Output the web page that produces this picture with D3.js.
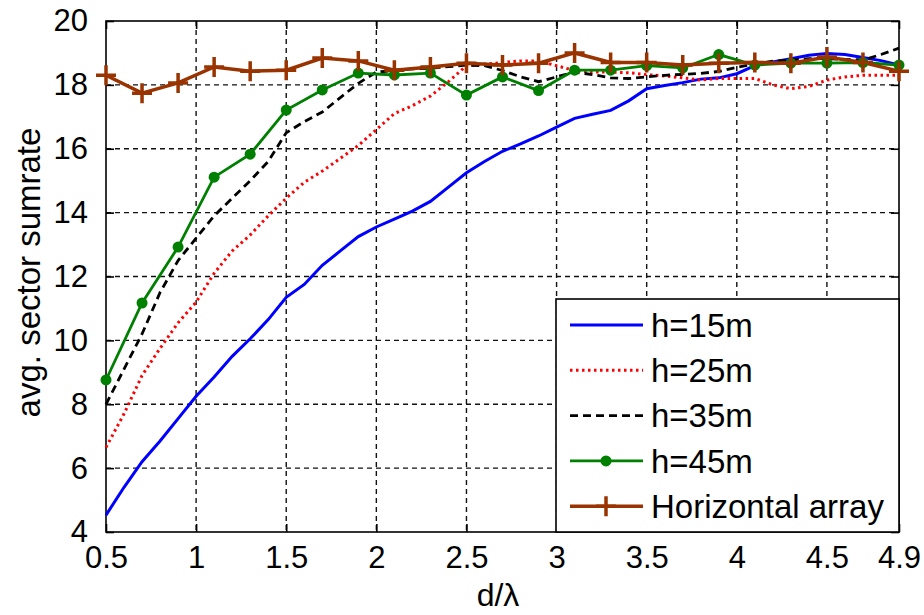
<!DOCTYPE html>
<html>
<head>
  <meta charset="utf-8">
  <title>avg. sector sumrate</title>
  <script src="https://d3js.org/d3.v7.min.js"></script>
  <style>
    body { margin: 0; background: white; }
    text { font-family: "Liberation Sans", Arial, sans-serif; fill: #000; }
  </style>
</head>
<body>
<div id="output"></div>

<script type="text/javascript">

  // d/lambda sampled every 0.1 for the three plain curves
  var dFine = [0.5, 0.6, 0.7, 0.8, 0.9, 1.0, 1.1, 1.2, 1.3, 1.4, 1.5, 1.6, 1.7, 1.8, 1.9,
               2.0, 2.1, 2.2, 2.3, 2.4, 2.5, 2.6, 2.7, 2.8, 2.9, 3.0, 3.1, 3.2, 3.3, 3.4,
               3.5, 3.6, 3.7, 3.8, 3.9, 4.0, 4.1, 4.2, 4.3, 4.4, 4.5, 4.6, 4.7, 4.8, 4.9];

  // d/lambda where the marker curves have points
  var dMarks = [0.5, 0.7, 0.9, 1.1, 1.3, 1.5, 1.7, 1.9, 2.1, 2.3, 2.5, 2.7, 2.9,
                3.1, 3.3, 3.5, 3.7, 3.9, 4.1, 4.3, 4.5, 4.7, 4.9];

  var h15 = [4.53, 5.4, 6.2, 6.85, 7.55, 8.25, 8.85, 9.5, 10.05, 10.65, 11.35, 11.75, 12.35, 12.8, 13.25,
             13.55, 13.8, 14.05, 14.35, 14.8, 15.25, 15.6, 15.92, 16.15, 16.4, 16.68, 16.95, 17.08, 17.2, 17.5,
             17.88, 17.98, 18.07, 18.18, 18.22, 18.35, 18.6, 18.72, 18.82, 18.93, 18.98, 18.95, 18.86, 18.76, 18.62];

  var h25 = [6.65, 7.7, 8.9, 9.75, 10.55, 11.2, 12.1, 12.8, 13.3, 13.9, 14.45, 14.95, 15.3, 15.7, 16.1,
             16.6, 17.1, 17.35, 17.65, 18.1, 18.6, 18.65, 18.7, 18.75, 18.75, 18.6, 18.45, 18.4, 18.4, 18.38,
             18.32, 18.28, 18.22, 18.15, 18.2, 18.2, 18.2, 18.0, 17.88, 17.95, 18.15, 18.25, 18.3, 18.3, 18.3];

  var h35 = [8.0, 9.1, 10.2, 11.5, 12.5, 13.2, 13.9, 14.45, 15.0, 15.6, 16.5, 16.85, 17.15, 17.6, 18.05,
             18.4, 18.45, 18.5, 18.52, 18.57, 18.62, 18.6, 18.45, 18.25, 18.1, 18.25, 18.4, 18.32, 18.22, 18.2,
             18.25, 18.3, 18.33, 18.36, 18.42, 18.55, 18.66, 18.74, 18.78, 18.82, 18.82, 18.8, 18.78, 18.95, 19.15];

  var h45 = [8.76, 11.17, 12.92, 15.11, 15.83, 17.21, 17.84, 18.37, 18.31, 18.37, 17.68, 18.25,
             17.82, 18.46, 18.46, 18.6, 18.53, 18.95, 18.62, 18.68, 18.68, 18.7, 18.62];

  var horiz = [18.3, 17.74, 18.06, 18.56, 18.43, 18.46, 18.84, 18.75, 18.46, 18.56, 18.68, 18.62,
               18.68, 19.0, 18.7, 18.7, 18.62, 18.68, 18.7, 18.68, 18.87, 18.7, 18.43];

  var xTicks = [0.5, 1, 1.5, 2, 2.5, 3, 3.5, 4, 4.5, 4.9];
  var yTicks = [4, 6, 8, 10, 12, 14, 16, 18, 20];
  var legendLabels = ["h=15m", "h=25m", "h=35m", "h=45m", "Horizontal array"];

  var w = 924;
  var h = 615;
  var chartMargin = {top: 21, right: 25, bottom: 83, left: 106},
      wChart = w - chartMargin.left - chartMargin.right,
      hChart = h - chartMargin.top - chartMargin.bottom;

  var x = d3.scaleLinear()
          .domain([0.5, 4.9])
          .range([0, wChart]);

  var y = d3.scaleLinear()
          .domain([4, 20])
          .range([hChart, 0]);

  var svg = d3.select("#output").append("svg")
          .attr("width", w)
          .attr("height", h);

  var chart = svg.append("g")
          .attr("transform", "translate(" + chartMargin.left + "," + chartMargin.top + ")");

  chart.append("rect")
          .attr("width", wChart)
          .attr("height", hChart)
          .attr("fill", "white");

  // grid
  chart.selectAll(".gridx")
          .data(xTicks.slice(1, -1))
          .enter()
          .append("line")
          .attr("class", "gridx")
          .attr("x1", function(d){ return x(d) })
          .attr("x2", function(d){ return x(d) })
          .attr("y1", 0)
          .attr("y2", hChart)
          .attr("stroke", "#111")
          .attr("stroke-width", 1.4)
          .attr("stroke-dasharray", "5,4");

  chart.selectAll(".gridy")
          .data(yTicks.slice(1, -1))
          .enter()
          .append("line")
          .attr("class", "gridy")
          .attr("x1", 0)
          .attr("x2", wChart)
          .attr("y1", function(d){ return y(d) })
          .attr("y2", function(d){ return y(d) })
          .attr("stroke", "#111")
          .attr("stroke-width", 1.4)
          .attr("stroke-dasharray", "5,4");

  // axes with inward ticks (matlab look)
  var xAxis = d3.axisBottom(x).tickValues(xTicks).tickSize(-8).tickPadding(14).tickFormat(d3.format("~g"));
  var xAxisTop = d3.axisTop(x).tickValues(xTicks).tickSize(-8).tickFormat("");
  var yAxis = d3.axisLeft(y).tickValues(yTicks).tickSize(-8).tickPadding(18).tickFormat(d3.format("d"));
  var yAxisRight = d3.axisRight(y).tickValues(yTicks).tickSize(-8).tickFormat("");

  var gx = chart.append("g")
          .attr("class", "axis")
          .attr("transform", "translate(0," + hChart + ")")
          .call(xAxis);
  chart.append("g").attr("class", "axis").call(xAxisTop);
  var gy = chart.append("g").attr("class", "axis").call(yAxis);
  chart.append("g").attr("class", "axis")
          .attr("transform", "translate(" + wChart + ",0)")
          .call(yAxisRight);

  svg.selectAll(".axis path, .axis line")
          .attr("stroke", "#000")
          .attr("stroke-width", 1.6);
  svg.selectAll(".axis .domain").attr("d", null);

  gx.selectAll("text").attr("font-size", 31).attr("dy", "0.71em");
  gy.selectAll("text").attr("font-size", 31);

  chart.append("rect")
          .attr("width", wChart)
          .attr("height", hChart)
          .attr("fill", "none")
          .attr("stroke", "#000")
          .attr("stroke-width", 1.6);

  // curves
  var lineFine = d3.line()
          .x(function(d, i){ return x(dFine[i]) })
          .y(function(d){ return y(d) });

  var lineMarks = d3.line()
          .x(function(d, i){ return x(dMarks[i]) })
          .y(function(d){ return y(d) });

  var series = [
    {vals: h15, line: lineFine, color: "#0000ff", width: 3, dash: null},
    {vals: h25, line: lineFine, color: "#ff0000", width: 3, dash: "2.5,3.5"},
    {vals: h35, line: lineFine, color: "#000000", width: 2.8, dash: "8,5"},
    {vals: h45, line: lineMarks, color: "#008000", width: 2.8, dash: null},
    {vals: horiz, line: lineMarks, color: "#993300", width: 3.5, dash: null}
  ];

  series.forEach(function(s){
    chart.append("path")
            .datum(s.vals)
            .attr("fill", "none")
            .attr("stroke", s.color)
            .attr("stroke-width", s.width)
            .attr("stroke-dasharray", s.dash)
            .attr("d", s.line);
  });

  chart.selectAll(".dot45")
          .data(h45)
          .enter()
          .append("circle")
          .attr("class", "dot45")
          .attr("cx", function(d, i){ return x(dMarks[i]) })
          .attr("cy", function(d){ return y(d) })
          .attr("r", 5.5)
          .attr("fill", "#008000");

  chart.selectAll(".plus")
          .data(horiz)
          .enter()
          .append("path")
          .attr("class", "plus")
          .attr("transform", function(d, i){ return "translate(" + x(dMarks[i]) + "," + y(d) + ")" })
          .attr("d", "M-10,0H10M0,-10V10")
          .attr("stroke", "#993300")
          .attr("stroke-width", 3.5)
          .attr("fill", "none");

  // legend
  var legend = chart.append("g")
          .attr("transform", "translate(" + (wChart - 343) + "," + (hChart - 233) + ")");

  legend.append("rect")
          .attr("width", 343)
          .attr("height", 233)
          .attr("fill", "white")
          .attr("stroke", "#000")
          .attr("stroke-width", 1.6);

  var rows = legend.selectAll(".row")
          .data(series)
          .enter()
          .append("g")
          .attr("class", "row")
          .attr("transform", function(d, i){ return "translate(0," + (26 + i * 45.3) + ")" });

  rows.append("line")
          .attr("x1", 14)
          .attr("x2", 87)
          .attr("stroke", function(d){ return d.color })
          .attr("stroke-width", function(d){ return d.width })
          .attr("stroke-dasharray", function(d){ return d.dash });

  rows.filter(function(d, i){ return i == 3 })
          .append("circle")
          .attr("cx", 50)
          .attr("r", 5.5)
          .attr("fill", "#008000");

  rows.filter(function(d, i){ return i == 4 })
          .append("path")
          .attr("d", "M40,0H60M50,-10V10")
          .attr("stroke", "#993300")
          .attr("stroke-width", 3.5);

  rows.append("text")
          .attr("x", 95)
          .attr("dy", "0.36em")
          .attr("font-size", 33)
          .text(function(d, i){ return legendLabels[i] });

  // axis titles
  svg.append("text")
          .attr("x", 498)
          .attr("y", 606)
          .attr("text-anchor", "middle")
          .attr("font-size", 32)
          .text("d/λ");

  svg.append("text")
          .attr("transform", "translate(40," + (chartMargin.top + hChart / 2 - 4) + ") rotate(-90)")
          .attr("text-anchor", "middle")
          .attr("font-size", 33)
          .text("avg. sector sumrate");

</script>
</body>
</html>
